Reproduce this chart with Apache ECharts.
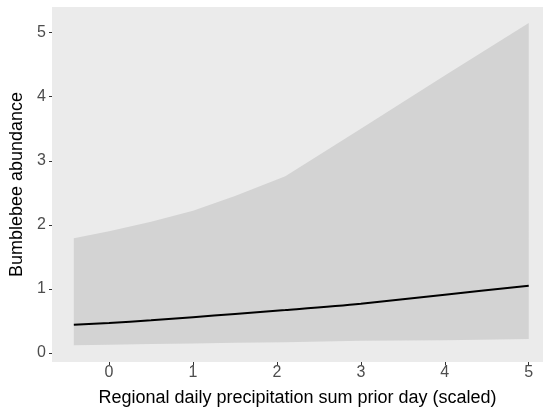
<!DOCTYPE html>
<html>
<head>
<meta charset="utf-8">
<script src="https://cdn.jsdelivr.net/npm/echarts@6/dist/echarts.min.js"></script>
<style>
  html, body {margin: 0; padding: 0; background: #fff;}
  #chart {width: 544px; height: 412px;}
</style>
</head>
<body>
<div id="chart"></div>
<script>
// Predicted abundance vs scaled precipitation, with confidence band
const precip = [-0.42, 0, 0.5, 1, 1.5, 2.1, 3, 4, 5]
const fitted = [0.44, 0.47, 0.51, 0.56, 0.61, 0.67, 0.77, 0.91, 1.05]
const upper = [1.79, 1.90, 2.05, 2.22, 2.45, 2.76, 3.50, 4.33, 5.15]
const lower = [0.12, 0.13, 0.14, 0.15, 0.16, 0.17, 0.19, 0.20, 0.22]
const ticks = [0, 1, 2, 3, 4, 5]

const FONT = "Liberation Sans"

function bandItem(params, api) {
  if (params.dataIndex !== 0) return
  const top = precip.map((x, i) => api.coord([x, upper[i]]))
  const bottom = precip.map((x, i) => api.coord([x, lower[i]])).reverse()
  return {
    type: "polygon",
    shape: {points: top.concat(bottom)},
    style: {fill: "#d3d3d3"},
  }
}

const chart = echarts.init(document.getElementById("chart"), null, {renderer: "canvas"})
chart.setOption({
  animation: false,
  backgroundColor: "#fff",
  grid: {
    left: 51, right: 1, top: 7, bottom: 49,
    show: true, backgroundColor: "#ebebeb", borderWidth: 0,
  },
  xAxis: {
    type: "value",
    min: -0.68,
    max: 5.17,
    name: "Regional daily precipitation sum prior day (scaled)",
    nameLocation: "middle",
    nameGap: 27,
    nameTextStyle: {color: "#000", fontFamily: FONT, fontSize: 18},
    axisLine: {show: false, onZero: false},
    axisTick: {show: true, length: 3, lineStyle: {color: "#333"}, customValues: ticks},
    axisLabel: {color: "#4d4d4d", fontFamily: FONT, fontSize: 16, margin: 3, customValues: ticks},
    splitLine: {show: false},
  },
  yAxis: {
    type: "value",
    min: -0.14,
    max: 5.4,
    name: "Bumblebee abundance",
    nameLocation: "middle",
    nameGap: 26,
    nameTextStyle: {color: "#000", fontFamily: FONT, fontSize: 18},
    axisLine: {show: false, onZero: false},
    axisTick: {show: true, length: 3, lineStyle: {color: "#333"}, customValues: ticks},
    axisLabel: {color: "#4d4d4d", fontFamily: FONT, fontSize: 16, margin: 6, customValues: ticks},
    splitLine: {show: false},
  },
  series: [
    {
      type: "custom",
      renderItem: bandItem,
      data: [[precip[0], upper[0]]],
      silent: true,
      z: 1,
    },
    {
      type: "line",
      data: precip.map((x, i) => [x, fitted[i]]),
      smooth: 0.3,
      symbol: "none",
      lineStyle: {color: "#000", width: 2},
      z: 2,
    },
  ],
})
</script>
</body>
</html>
